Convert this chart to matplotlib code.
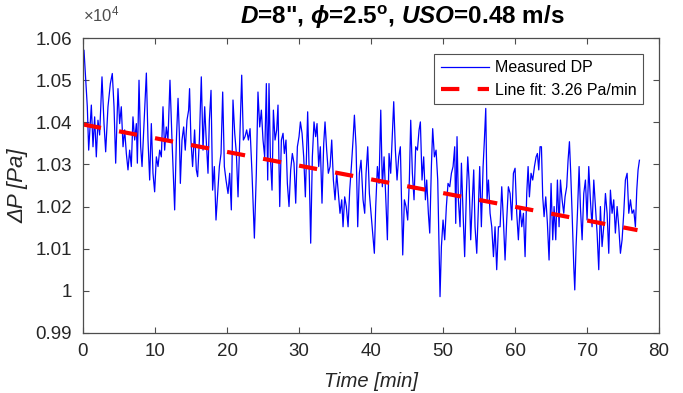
import matplotlib
matplotlib.use("Agg")
import matplotlib.pyplot as plt
import numpy as np

# ---- data ----
time_min = [0.14, 0.6, 0.79, 1.16, 1.39, 1.62, 1.85, 2.08, 2.31, 2.64, 2.92, 3.15, 3.47, 3.8, 4.07, 4.31, 4.54,
            4.86, 5.09, 5.32, 5.56, 5.79, 6.02, 6.25, 6.48, 6.71, 6.94, 7.18, 7.41, 7.55, 7.78, 8.01, 8.2, 8.47,
            8.8, 9.03, 9.26, 9.49, 9.72, 9.95, 10.19, 10.42, 10.65, 10.88, 11.11, 11.34, 11.57, 11.8, 12.08, 12.36,
            12.73, 12.97, 13.2, 13.38, 13.52, 13.75, 13.98, 14.2, 14.44, 14.67, 14.8, 14.99, 15.22, 15.5, 15.74,
            15.92, 16.16, 16.43, 16.67, 16.9, 17.09, 17.36, 17.55, 17.78, 18.0, 18.24, 18.47, 18.7, 18.94, 19.17,
            19.4, 19.63, 19.86, 20.14, 20.37, 20.6, 20.83, 21.07, 21.3, 21.53, 21.81, 22.04, 22.27, 22.5, 22.73,
            22.97, 23.2, 23.47, 23.8, 24.07, 24.3, 24.54, 24.77, 25.0, 25.23, 25.46,
            25.65, 25.83, 26.02, 26.25, 26.44, 26.67, 26.9, 27.08, 27.32, 27.55, 27.78, 27.96, 28.19, 28.38, 28.61,
            28.84, 29.07, 29.3, 29.54, 29.77, 30.0, 30.19, 30.42, 30.65, 30.88, 31.2, 31.44, 31.62, 31.85, 32.08,
            32.31, 32.5, 32.73, 32.96, 33.19, 33.43, 33.61, 33.84, 34.07, 34.31, 34.54, 34.77, 35.0, 35.23, 35.46,
            35.69, 35.93, 36.11, 36.34, 36.57, 36.81, 37.04, 37.27, 37.5, 37.69, 37.92, 38.15, 38.38, 38.61,
            38.89, 39.12, 39.31, 39.54, 39.77, 40.0, 40.24, 40.46, 40.65, 40.88, 41.11, 41.35, 41.57, 41.81, 42.04,
            42.27, 42.5, 42.73, 42.92, 43.15, 43.38, 43.61, 43.84, 44.07, 44.31, 44.4, 44.63, 44.86, 45.09, 45.32,
            45.51, 45.74, 45.97, 46.2, 46.44, 46.67, 46.85, 47.08, 47.31, 47.55, 47.73, 47.96, 48.15, 48.38, 48.56,
            48.8, 49.03, 49.26, 49.44, 49.58, 49.77, 50.0, 50.23, 50.46, 50.69, 50.93, 51.16, 51.39, 51.62,
            51.76, 51.94, 52.13, 52.36, 52.55, 52.78, 53.0, 53.24, 53.43, 53.61, 53.84, 54.07, 54.26, 54.44, 54.68,
            54.91, 55.09, 55.32, 55.56, 55.74, 55.93, 56.11, 56.3, 56.53, 56.76, 57.0, 57.22, 57.45, 57.69, 57.92,
            58.15, 58.38, 58.61, 58.84, 59.07, 59.31, 59.54, 59.77, 60.0, 60.23, 60.46, 60.69, 60.93, 61.16, 61.39,
            61.62, 61.81, 61.99, 62.22, 62.45, 62.69, 62.92, 63.1, 63.29, 63.47, 63.66, 63.84, 64.03, 64.26, 64.49,
            64.72, 65.0, 65.23, 65.42, 65.65, 65.88, 66.11, 66.3, 66.53, 66.76, 66.94, 67.17, 67.36, 67.55, 67.73,
            67.92, 68.15, 68.29, 68.47, 68.66, 68.89, 69.07, 69.31, 69.54, 69.77, 70.0, 70.23, 70.46, 70.69, 70.93,
            71.16, 71.39, 71.62, 71.85, 72.08, 72.31, 72.55, 72.78, 73.01, 73.24, 73.47, 73.7, 73.93, 74.17, 74.4,
            74.63, 74.86, 75.09, 75.32, 75.56, 75.79, 76.02, 76.25, 76.48, 76.71, 76.9, 77.08, 77.27]

dp_pa = [10571, 10437, 10334, 10441, 10342, 10413, 10318, 10405, 10370, 10508, 10397, 10330, 10437, 10492, 10516, 10437, 10303,
         10480, 10397, 10437, 10342, 10382, 10326, 10287, 10334, 10295, 10413, 10358, 10397, 10303, 10500, 10342, 10295, 10397,
         10517, 10358, 10263, 10397, 10279, 10235, 10318, 10295, 10334, 10318, 10437, 10334, 10389, 10358, 10500, 10358,
         10192, 10358, 10457, 10374, 10255, 10358, 10389, 10334, 10405, 10429, 10480, 10358, 10295, 10382, 10287,
         10271, 10358, 10508, 10334, 10437, 10366, 10279, 10405, 10476, 10239, 10295, 10168, 10231, 10295, 10326,
         10472, 10295, 10263, 10231, 10279, 10192, 10453, 10374, 10326, 10223, 10382, 10512, 10358, 10366, 10382,
         10358, 10385, 10279, 10125, 10279, 10472, 10389, 10429, 10358, 10318, 10492,
         10263, 10492, 10318, 10239, 10429, 10358, 10382, 10441, 10200, 10358, 10374, 10326, 10358, 10255, 10200,
         10287, 10326, 10303, 10208, 10342, 10366, 10401, 10374, 10318, 10223, 10425, 10263, 10113, 10318, 10401,
         10366, 10397, 10295, 10342, 10208, 10350, 10401, 10334, 10279, 10295, 10358, 10263, 10216, 10279, 10231,
         10184, 10216, 10152, 10223, 10200, 10152, 10239, 10295, 10358, 10417, 10342, 10152, 10279, 10310,
         10216, 10184, 10279, 10342, 10231, 10184, 10137, 10089, 10200, 10295, 10255, 10429, 10247, 10318, 10223,
         10121, 10326, 10279, 10358, 10449, 10334, 10263, 10318, 10342, 10160, 10085, 10216, 10200, 10168, 10263,
         10405, 10279, 10216, 10342, 10334, 10382, 10401, 10263, 10318, 10216, 10263, 10184, 10137, 10295, 10385,
         10318, 10334, 10263, 10105, 9986, 10105, 10168, 10121, 10200, 10255, 10247, 10279, 10295, 10342,
         10160, 10366, 10216, 10152, 10303, 10184, 10081, 10231, 10318, 10263, 10121, 10216, 10287, 10152, 10089,
         10200, 10295, 10152, 10295, 10358, 10433, 10216, 10263, 10184, 10152, 10081, 10152, 10050, 10152, 10152,
         10247, 10168, 10073, 10168, 10247, 10231, 10168, 10279, 10291, 10184, 10121, 10200, 10152, 10184, 10081,
         10231, 10295, 10223, 10279, 10263, 10295, 10318, 10326, 10287, 10342, 10342, 10223, 10176, 10223, 10160,
         10073, 10255, 10121, 10200, 10121, 10263, 10152, 10263, 10216, 10184, 10223, 10247, 10310, 10354, 10279,
         10184, 10058, 10002, 10105, 10184, 10295, 10200, 10121, 10231, 10263, 10168, 10295, 10216, 10152, 10263,
         10200, 10137, 10050, 10200, 10105, 10152, 10231, 10184, 10089, 10239, 10184, 10216, 10137, 10200, 10152,
         10089, 10121, 10184, 10263, 10279, 10184, 10216, 10184, 10192, 10152, 10239, 10287, 10310]

fit_intercept = 10395.0   # Pa at t = 0
fit_slope = -3.26         # Pa/min
fit_t = [0.0, 77.0]

x_ticks = [0, 10, 20, 30, 40, 50, 60, 70, 80]
y_ticks = [9900, 10000, 10100, 10200, 10300, 10400, 10500, 10600]
y_tick_labels = ['0.99', '1', '1.01', '1.02', '1.03', '1.04', '1.05', '1.06']

# ---- style ----
plt.rcParams['font.family'] = ['Liberation Sans', 'DejaVu Sans']
plt.rcParams['mathtext.fontset'] = 'custom'
plt.rcParams['mathtext.rm'] = 'Liberation Sans'
plt.rcParams['mathtext.it'] = 'Liberation Sans:italic'
plt.rcParams['mathtext.bf'] = 'Liberation Sans:bold'
try:
    plt.rcParams['mathtext.bfit'] = 'Liberation Sans:italic:bold'
except KeyError:
    pass

fig = plt.figure(figsize=(6.83, 3.93), dpi=100)
ax = fig.add_axes([0.1215, 0.153, 0.8435, 0.75])

ax.plot(time_min, dp_pa, color='#0000ff', lw=0.9, label='Measured DP')
fit_y = [fit_intercept + fit_slope * t for t in fit_t]
ax.plot(fit_t, fit_y, color='#ff0000', lw=3.0, dashes=(4.4, 4.4),
        dash_capstyle='butt', label='Line fit: 3.26 Pa/min')

ax.set_xlim(0, 80)
ax.set_ylim(9900, 10600)
ax.set_xticks(x_ticks)
ax.set_yticks(y_ticks)
ax.set_yticklabels(y_tick_labels)

gray = '#262626'
for s in ax.spines.values():
    s.set_color('#4d4d4d')
    s.set_linewidth(0.9)
ax.tick_params(direction='in', top=True, right=True, length=4, width=0.8,
               colors='#4d4d4d', labelcolor=gray, labelsize=13.5)
ax.tick_params(axis='x', pad=7)
ax.tick_params(axis='y', pad=8)

ax.set_xlabel('Time [min]', fontsize=14.5, style='italic', color=gray, labelpad=9)
ax.set_ylabel('ΔP [Pa]', fontsize=16, style='italic', color=gray, labelpad=5)

ax.text(0.0, 1.045, r'$\times10^4$', transform=ax.transAxes, fontsize=12,
        color='#4d4d4d', ha='left', va='bottom')

title = r'$\mathbfit{D}$=8", $\boldsymbol{\phi}$=2.5$^{\mathbf{o}}$, $\mathbfit{USO}$=0.48 m/s'
try:
    t = ax.text(0.555, 1.025, title, transform=ax.transAxes, fontsize=17.5,
                fontweight='bold', ha='center', va='bottom')
    fig.canvas.draw()
except Exception:
    t.remove()
    ax.text(0.555, 1.025, r'$\it{D}$=8", $\phi$=2.5$^{o}$, $\it{USO}$=0.48 m/s',
            transform=ax.transAxes, fontsize=17.5, fontweight='bold',
            ha='center', va='bottom')

leg = ax.legend(loc='upper right', fontsize=11.5, frameon=True, fancybox=False,
                edgecolor='#262626', handlelength=3.0, handletextpad=0.4,
                borderaxespad=1.0, labelspacing=0.45, borderpad=0.4)
leg.get_frame().set_linewidth(0.8)

fig.savefig('out.png', dpi=100)
